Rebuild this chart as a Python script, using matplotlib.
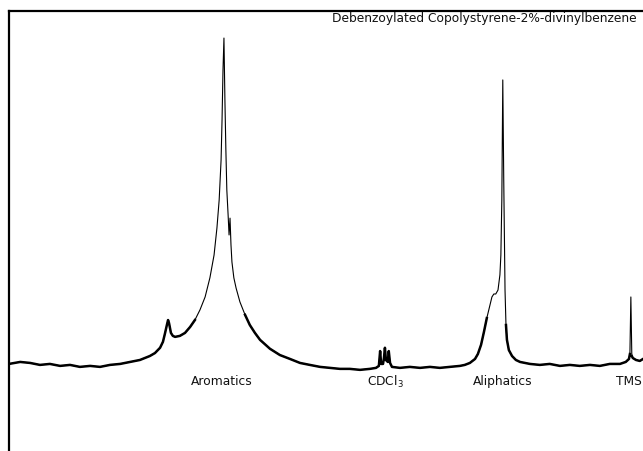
import matplotlib
matplotlib.use('Agg')
import matplotlib.pyplot as plt
import numpy as np

# 13C NMR spectrum (chemical shift in ppm, relative intensity)
shift = [194.7, 191.2, 188.1, 185.0, 181.9, 178.7, 175.6, 172.5, 169.3, 166.2,
         163.1, 159.9, 156.8, 153.7, 150.6, 149.0, 147.4, 146.5, 145.9, 145.2,
         144.9, 144.6, 144.0, 143.4, 142.7, 141.2, 139.6, 138.0, 136.5, 134.9,
         133.3, 131.8, 130.5, 129.6, 128.9, 128.3, 128.0, 127.7, 127.4, 127.1,
         126.8, 126.5, 126.1, 125.8, 125.5, 125.2, 124.9, 124.3, 123.6, 122.4,
         120.8, 119.3, 117.7, 116.1, 113.0, 109.9, 106.7, 103.6, 100.5, 97.3,
         94.2, 91.1, 88.0, 84.8, 81.7, 79.8, 78.9, 78.5, 78.2, 77.6,
         77.3, 77.0, 76.7, 76.1, 75.8, 75.4, 74.8, 72.3, 69.2, 66.0,
         62.9, 59.8, 56.7, 53.5, 52.0, 50.4, 48.8, 47.9, 46.9, 46.0,
         45.1, 44.1, 43.5, 42.9, 42.3, 41.6, 41.0, 40.7, 40.4, 40.1,
         39.8, 39.4, 39.1, 38.8, 38.2, 37.2, 36.0, 34.7, 31.6, 28.5,
         25.4, 22.2, 19.1, 16.0, 12.8, 9.7, 6.6, 3.4, 1.6, 0.6,
         0.3, 0.0, -0.3, -0.6, -1.6, -2.8, -3.8]
intensity = [0.6, 1.2, 0.9, 0.3, 0.6, 0.0, 0.3, -0.3, 0.0, -0.3,
             0.3, 0.6, 1.2, 1.8, 3.0, 3.9, 5.5, 7.3, 9.7, 12.7,
             13.9, 13.0, 10.0, 9.1, 8.8, 9.1, 10.0, 11.8, 13.9, 17.0,
             20.9, 26.7, 33.6, 41.8, 50.3, 62.4, 74.5, 89.7, 99.4, 80.6,
             65.5, 53.3, 45.8, 39.7, 44.8, 36.7, 31.5, 26.7, 23.6, 19.4,
             15.5, 12.4, 10.0, 7.9, 5.2, 3.3, 2.1, 0.9, 0.3, -0.3,
             -0.6, -0.9, -0.9, -1.2, -0.9, -0.6, 0.0, 4.5, 0.6, 0.6,
             2.4, 5.5, 1.8, 1.2, 4.5, 0.9, -0.3, -0.6, -0.3, -0.6,
             -0.3, -0.6, -0.3, 0.0, 0.3, 0.9, 2.1, 3.6, 6.4, 10.3,
             14.5, 18.5, 20.9, 21.8, 21.8, 23.0, 27.6, 33.6, 50.3, 86.7,
             56.4, 23.0, 12.4, 7.9, 4.8, 3.0, 1.8, 1.2, 0.6, 0.3,
             0.6, 0.0, 0.3, 0.0, 0.3, 0.0, 0.6, 0.6, 1.2, 2.1,
             3.6, 20.9, 3.0, 2.4, 1.8, 1.5, 2.1]

peak_labels = ['Aromatics', 'CDCl$_3$', 'Aliphatics', 'TMS']
peak_shifts = [128.0, 77.0, 40.1, 0.6]

title = 'Debenzoylated Copolystyrene-2%-divinylbenzene'

fig = plt.figure(figsize=(6.43, 4.51), dpi=100)
ax = fig.add_axes([9 / 643, 0, 634 / 643, 440 / 451])

shift = np.array(shift)
intensity = np.array(intensity)
# peaks are thin pen strokes, the baseline is a heavier noisy trace
ax.plot(shift, intensity, color='black', lw=0.8)
ax.plot(shift, np.ma.masked_where(intensity > 16, intensity),
        color='black', lw=1.8)

ax.set_xlim(194.7, -3.8)
ax.set_ylim(-25.8, 107.6)
ax.set_xticks([])
ax.set_yticks([])
for side in ['right', 'bottom']:
    ax.spines[side].set_visible(False)
for side in ['left', 'top']:
    ax.spines[side].set_linewidth(1.6)

for lab, pos in zip(peak_labels, peak_shifts):
    ax.text(pos, -4.8, lab, ha='center', va='center', fontsize=8.8,
            color='#111111')

ax.text(0.99, 0.984, title, ha='right', va='center', fontsize=8.8,
        color='#111111', transform=ax.transAxes)

fig.savefig('out.png', dpi=100)
